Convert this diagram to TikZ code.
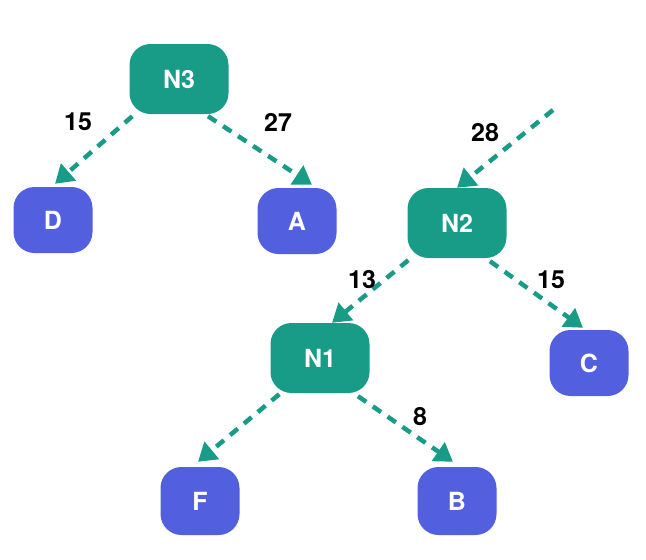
\documentclass[tikz,border=0pt]{standalone}
\usepackage{fontspec}
\setmainfont{TeX Gyre Heros}
\usetikzlibrary{arrows.meta}
\definecolor{tealnode}{HTML}{189B87}
\definecolor{bluenode}{HTML}{5260E0}
\begin{document}
\begin{tikzpicture}[x=1pt,y=-1pt,
  inner/.style={fill=tealnode, rounded corners=21pt, minimum width=99pt, minimum height=70pt, text=white, font=\bfseries\fontsize{25}{25}\selectfont, inner sep=0pt},
  leaf/.style={fill=bluenode, rounded corners=21pt, minimum width=79pt, minimum height=66pt, text=white, font=\bfseries\fontsize{25}{25}\selectfont, inner sep=0pt},
  edge/.style={draw=tealnode, line width=4.5pt, dash pattern=on 10pt off 8pt, -{Triangle[length=18pt,width=22pt]}},
  wt/.style={font=\bfseries\fontsize{25}{25}\selectfont, text=black}]
\useasboundingbox (0,0) rectangle (646,560);
\node[inner] (N3) at (179,79) {N3};
\node[leaf] (D) at (53,220) {D};
\node[leaf] (A) at (297,221) {A};
\node[inner] (N2) at (457,223) {N2};
\node[inner] (N1) at (320,358) {N1};
\node[leaf] (C) at (589,363) {C};
\node[leaf, minimum height=68pt] (F) at (200,501) {F};
\node[leaf, minimum height=68pt] (B) at (457,501) {B};
\coordinate (ext) at (553,110);
\draw[edge] ([xshift=3pt,yshift=-2pt]N3.south west) -- ([xshift=2pt,yshift=3pt]D.north);
\draw[edge] ([xshift=29pt,yshift=-2pt]N3.south) -- ([xshift=15pt,yshift=3pt]A.north);
\draw[edge] (ext) -- (N2.north);
\draw[edge] ([xshift=1pt,yshift=-2pt]N2.south west) -- ([xshift=12pt]N1.north);
\draw[edge] ([xshift=33pt,yshift=-3pt]N2.south) -- ([xshift=-6pt,yshift=2pt]C.north);
\draw[edge] ([xshift=9pt,yshift=-1pt]N1.south west) -- ([xshift=-2pt,yshift=5pt]F.north);
\draw[edge] ([xshift=38pt,yshift=-3pt]N1.south) -- ([xshift=-4pt,yshift=5pt]B.north);
\node[wt] (w1) at (78,122) {15};
\node[wt] (w2) at (278,122) {27};
\node[wt] (w3) at (485,133) {28};
\node[wt] (w4) at (362,280) {13};
\node[wt] (w5) at (551,280) {15};
\node[wt] (w6) at (420,417) {8};
\end{tikzpicture}
\end{document}
